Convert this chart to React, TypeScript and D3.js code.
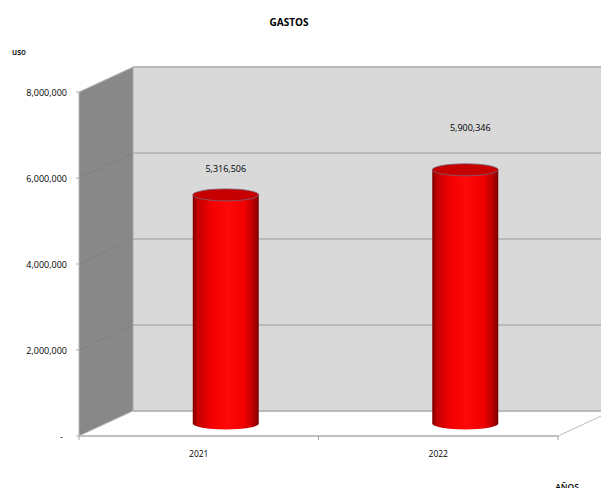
import React from "react";
import * as d3 from "d3";

const years = ["2021", "2022"];
const expenses = [5316506, 5900346];
const valueLabels = ["5,316,506", "5,900,346"];
const yTicks = [0, 2000000, 4000000, 6000000, 8000000];
const yTickLabels = ["-", "2,000,000", "4,000,000", "6,000,000", "8,000,000"];
const labelOffsets = [[0, -25], [5, -41]];

const WIDTH = 601;
const HEIGHT = 488;
const DEPTH_X = 54;
const DEPTH_Y = -25;
const BAR_WIDTH = 66;
const CAP_RY = 6;

const x = d3.scaleBand<string>().domain(years).range([79, 558]).paddingInner(0).paddingOuter(0);
const y = d3.scaleLinear().domain([0, 8000000]).range([436, 92]);

const poly = (pts: [number, number][]) => d3.line()(pts) + "Z";
const FONT = "'Open Sans', 'Liberation Sans', sans-serif";

export default function App() {
  const left = x.range()[0];
  const right = x.range()[1];
  const y0 = y(0);
  const yMax = y(8000000);
  const boundaries = [left, ...years.map((c) => (x(c) as number) + x.bandwidth())];

  return (
    <svg
      width={WIDTH}
      height={HEIGHT}
      viewBox={`0 0 ${WIDTH} ${HEIGHT}`}
      style={{ position: "absolute", left: 0, top: 0, background: "#fff" }}
      fontFamily={FONT}
    >
      <defs>
        <linearGradient id="cyl" x1="0" x2="1" y1="0" y2="0">
          <stop offset="0" stopColor="#800000" />
          <stop offset="0.08" stopColor="#c40000" />
          <stop offset="0.28" stopColor="#f20000" />
          <stop offset="0.52" stopColor="#ff0808" />
          <stop offset="0.78" stopColor="#f00000" />
          <stop offset="0.92" stopColor="#b80000" />
          <stop offset="1" stopColor="#780000" />
        </linearGradient>
      </defs>

      {/* back wall */}
      <rect
        x={left + DEPTH_X}
        y={yMax + DEPTH_Y}
        width={right - left}
        height={y0 - yMax}
        fill="#d9d9d9"
      />
      {/* side wall */}
      <path
        d={poly([
          [left, yMax],
          [left + DEPTH_X, yMax + DEPTH_Y],
          [left + DEPTH_X, y0 + DEPTH_Y],
          [left, y0],
        ])}
        fill="#888888"
      />
      {/* floor */}
      <path
        d={poly([
          [left, y0],
          [left + DEPTH_X, y0 + DEPTH_Y],
          [right + DEPTH_X, y0 + DEPTH_Y],
          [right, y0],
        ])}
        fill="#ffffff"
      />

      {/* gridlines on both walls */}
      {yTicks.map((t) => (
        <g key={t}>
          <line
            x1={left}
            x2={left + DEPTH_X}
            y1={y(t)}
            y2={y(t) + DEPTH_Y}
            stroke={t === 0 || t === 8000000 ? "#bdbdbd" : "#808080"}
            strokeWidth={1}
          />
          <line
            x1={left + DEPTH_X}
            x2={right + DEPTH_X}
            y1={y(t) + DEPTH_Y}
            y2={y(t) + DEPTH_Y}
            stroke="#bababa"
            strokeWidth={2}
          />
        </g>
      ))}
      <line x1={left + DEPTH_X} x2={left + DEPTH_X} y1={yMax + DEPTH_Y} y2={y0 + DEPTH_Y} stroke="#a8a8a8" />
      <line x1={right} x2={right + DEPTH_X} y1={y0} y2={y0 + DEPTH_Y} stroke="#bdbdbd" />

      {/* front axis lines */}
      <line x1={left} x2={right} y1={y0} y2={y0} stroke="#c0c0c0" strokeWidth={2} />
      <line x1={left} x2={left} y1={yMax} y2={y0} stroke="#b4b4b4" strokeWidth={1} />
      {yTicks.map((t) => (
        <line key={t} x1={left - 3} x2={left} y1={y(t)} y2={y(t)} stroke="#b0b0b0" strokeWidth={1} />
      ))}
      {boundaries.map((b) => (
        <line key={b} x1={b} x2={b} y1={y0} y2={y0 + 4} stroke="#a6a6a6" strokeWidth={1} />
      ))}

      {/* cylinders */}
      {years.map((c, i) => {
        const cx = (x(c) as number) + x.bandwidth() / 2 + DEPTH_X / 2;
        const base = y0 + DEPTH_Y / 2;
        const top = base - (y0 - y(expenses[i]));
        const rx = BAR_WIDTH / 2;
        return (
          <g key={c}>
            <path
              d={`M${cx - rx},${top} L${cx - rx},${base} A${rx},${CAP_RY} 0 0 0 ${cx + rx},${base} L${cx + rx},${top} Z`}
              fill="url(#cyl)"
            />
            <ellipse cx={cx} cy={top} rx={rx} ry={CAP_RY} fill="#c60000" stroke="#7a5f78" strokeWidth={0.8} />
            <text
              x={cx + labelOffsets[i][0]}
              y={top + labelOffsets[i][1]}
              textAnchor="middle"
              dominantBaseline="middle"
              fontSize={9}
              fill="#000"
            >
              {valueLabels[i]}
            </text>
          </g>
        );
      })}

      {/* tick labels */}
      {yTicks.map((t, i) => (
        <text
          key={t}
          x={i === 0 ? 63 : 67}
          y={y(t) + 1.5}
          textAnchor="end"
          dominantBaseline="middle"
          fontSize={9}
          fill="#000"
        >
          {yTickLabels[i]}
        </text>
      ))}
      {years.map((c) => (
        <text
          key={c}
          x={(x(c) as number) + x.bandwidth() / 2}
          y={454.5}
          textAnchor="middle"
          dominantBaseline="middle"
          fontSize={8.5}
          fill="#000"
        >
          {c}
        </text>
      ))}

      {/* titles */}
      <text x={289} y={23.5} textAnchor="middle" dominantBaseline="middle" fontSize={10} fontWeight={700} fill="#000">
        GASTOS
      </text>
      <text x={19} y={52.5} textAnchor="middle" dominantBaseline="middle" fontSize={8} fontWeight={600} fill="#000">
        uso
      </text>
      <text x={567} y={490} textAnchor="middle" fontSize={8.5} fontWeight={600} fill="#000">
        AÑOS
      </text>
    </svg>
  );
}
